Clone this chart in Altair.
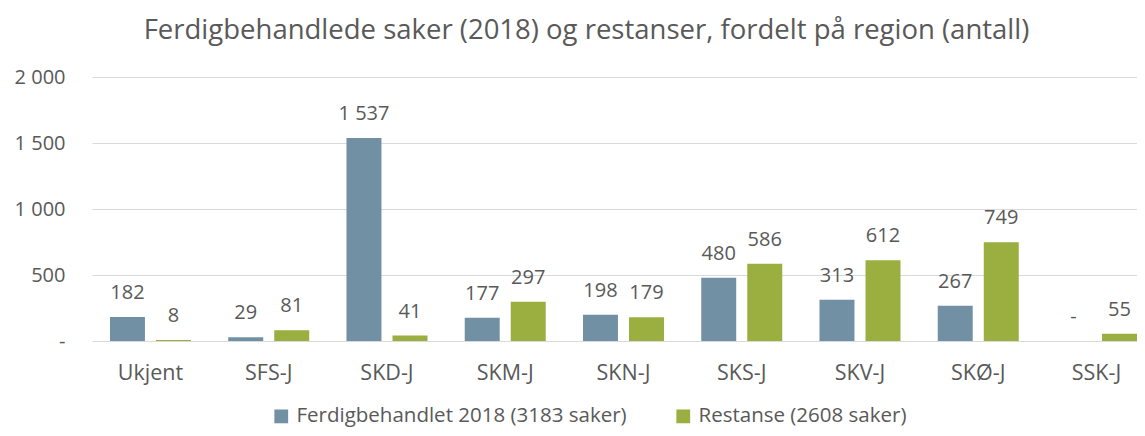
import altair as alt
import pandas as pd

categories = ["Ukjent", "SFS-J", "SKD-J", "SKM-J", "SKN-J", "SKS-J", "SKV-J", "SKØ-J", "SSK-J"]
ferdig = [182, 29, 1537, 177, 198, 480, 313, 267, 0]
restanse = [8, 81, 41, 297, 179, 586, 612, 749, 55]
series_names = ["Ferdigbehandlet 2018 (3183 saker)", "Restanse (2608 saker)"]
colors = ["#7290A3", "#9BAF40"]
y_ticks = [0, 500, 1000, 1500, 2000]

TXT = "#595959"
FONT = "Open Sans"

rows = []
for i, c in enumerate(categories):
    for s, vals in zip(series_names, [ferdig, restanse]):
        v = vals[i]
        lab = "-" if v == 0 else f"{v:,}".replace(",", " ")
        rows.append({"region": c, "serie": s, "antall": v, "label": lab})
df = pd.DataFrame(rows)

x_enc = alt.X(
    "region:N",
    sort=categories,
    scale=alt.Scale(paddingInner=0.315, paddingOuter=0.076, align=1),
    axis=alt.Axis(title=None, labelAngle=0, ticks=False, domain=False, grid=False,
                  labelPadding=21, labelFontSize=21.5, labelColor=TXT, labelFont=FONT),
)
xo_enc = alt.XOffset("serie:N", sort=series_names,
                     scale=alt.Scale(paddingInner=0.24, paddingOuter=0))
y_enc = alt.Y(
    "antall:Q",
    scale=alt.Scale(domain=[0, 2000], nice=False),
    axis=alt.Axis(title=None, values=y_ticks, ticks=False, domain=False,
                  grid=True, gridColor="#D9D9D9", gridWidth=1.2,
                  labelPadding=27, labelFontSize=20, labelColor=TXT, labelFont=FONT,
                  labelExpr="datum.value == 0 ? '-' : replace(format(datum.value, ','), ',', ' ')"),
)

bars = alt.Chart(df).mark_bar().encode(
    x=x_enc,
    xOffset=xo_enc,
    y=y_enc,
    color=alt.Color(
        "serie:N",
        sort=series_names,
        scale=alt.Scale(domain=series_names, range=colors),
        legend=alt.Legend(title=None, orient="none", direction="horizontal",
                          legendX=179, legendY=329, symbolType="square", symbolSize=190,
                          symbolStrokeWidth=0, labelFontSize=20.5, labelColor=TXT, labelFont=FONT,
                          labelLimit=0, columnPadding=46, labelOffset=5),
    ),
)

labels = alt.Chart(df).mark_text(
    baseline="alphabetic", dy=-18, fontSize=20, color=TXT, font=FONT
).encode(
    x=alt.X("region:N", sort=categories),
    xOffset=alt.XOffset("serie:N", sort=series_names),
    y=alt.Y("antall:Q"),
    text="label:N",
)

chart = (
    alt.layer(bars, labels)
    .properties(
        width=1045,
        height=264,
        autosize=alt.AutoSizeParams(type="none"),
        padding={"left": 84, "top": 69, "right": 0, "bottom": 87},
        title=alt.TitleParams(
            "Ferdigbehandlede saker (2018) og restanser, fordelt på region (antall)",
            fontSize=27.5, font=FONT, color=TXT, fontWeight="normal",
            anchor="middle", offset=23, dx=-28,
        ),
    )
    .configure_view(stroke=None)
)

chart.save("out.html", embed_options={"renderer": "svg", "actions": False})
